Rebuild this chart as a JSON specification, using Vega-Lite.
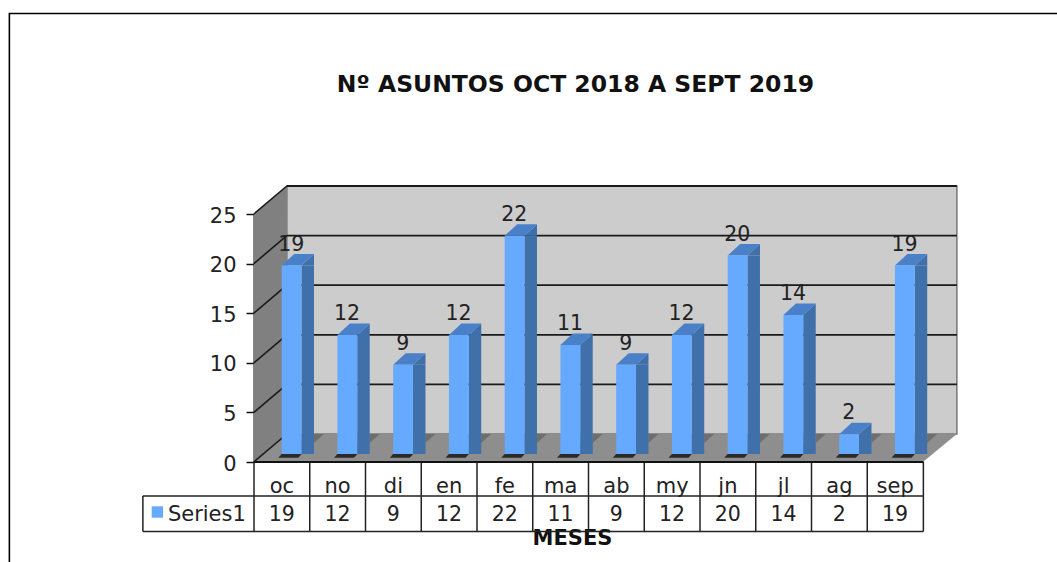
{"$schema":"https://vega.github.io/schema/vega-lite/v6.json","width":669,"height":248,"padding":{"left":254,"top":214,"right":134,"bottom":100},"autosize":"none","background":"white","config":{"view":{"stroke":null},"font":"DejaVu Sans"},"title":{"text":"Nº ASUNTOS OCT 2018 A SEPT 2019","font":"DejaVu Sans","fontSize":23.5,"fontWeight":"bold","color":"#111","anchor":"middle","dx":-13,"offset":-86},"data":{"values":[{"mes":"oc","asuntos":19},{"mes":"no","asuntos":12},{"mes":"di","asuntos":9},{"mes":"en","asuntos":12},{"mes":"fe","asuntos":22},{"mes":"ma","asuntos":11},{"mes":"ab","asuntos":9},{"mes":"my","asuntos":12},{"mes":"jn","asuntos":20},{"mes":"jl","asuntos":14},{"mes":"ag","asuntos":2},{"mes":"sep","asuntos":19}]},"encoding":{"x":{"field":"mes","type":"nominal","sort":null,"title":"MESES","scale":{"type":"band","domain":["oc","no","di","en","fe","ma","ab","my","jn","jl","ag","sep"],"paddingInner":0,"paddingOuter":0},"axis":{"orient":"bottom","labelAngle":0,"ticks":false,"domain":false,"labelFontSize":21,"labelColor":"#222","labelPadding":13,"titleFontSize":21,"titleFontWeight":"bold","titleColor":"#111","titleX":318,"titleY":82,"titleBaseline":"alphabetic"}},"y":{"field":"asuntos","type":"quantitative","title":null,"scale":{"domain":[0,25],"nice":false},"axis":{"values":[0,5,10,15,20,25],"grid":false,"domainColor":"#111","domainWidth":2,"tickColor":"#111","tickWidth":1.5,"tickSize":8,"labelFontSize":21,"labelColor":"#222","labelPadding":10,"labelOffset":2}}},"layer":[{"data":{"values":[{"mes":"oc","marca":0}]},"mark":{"type":"point","size":4,"filled":false,"opacity":1,"stroke":"#000","strokeWidth":1.6,"shape":"M-272.5,110L-272.5,-448.5L790,-448.5"},"encoding":{"y":{"field":"marca","type":"quantitative"}}},{"data":{"values":[{"mes":"oc","marca":0}]},"mark":{"type":"point","size":4,"filled":true,"opacity":1,"fill":"#cccccc","stroke":"#777","strokeWidth":1.5,"shape":"M5,-276L675,-276L675,-28L5,-28Z"},"encoding":{"y":{"field":"marca","type":"quantitative"}}},{"data":{"values":[{"mes":"oc","marca":0}]},"mark":{"type":"point","size":4,"filled":true,"opacity":1,"fill":"#808080","shape":"M-28,-248L5,-276L5,-28L-28,0Z"},"encoding":{"y":{"field":"marca","type":"quantitative"}}},{"data":{"values":[{"mes":"oc","marca":0}]},"mark":{"type":"point","size":4,"filled":true,"opacity":1,"fill":"#8e8e8e","shape":"M-28,0L5,-28L675,-28L641,0Z"},"encoding":{"y":{"field":"marca","type":"quantitative"}}},{"data":{"values":[{"mes":"oc","marca":5},{"mes":"oc","marca":10},{"mes":"oc","marca":15},{"mes":"oc","marca":20},{"mes":"oc","marca":25}]},"mark":{"type":"point","size":4,"filled":false,"opacity":1,"stroke":"#1a1a1a","strokeWidth":1.8,"shape":"M5,-28L675,-28"},"encoding":{"y":{"field":"marca","type":"quantitative"}}},{"data":{"values":[{"mes":"oc","marca":0},{"mes":"oc","marca":5},{"mes":"oc","marca":10},{"mes":"oc","marca":15},{"mes":"oc","marca":20},{"mes":"oc","marca":25}]},"mark":{"type":"point","size":4,"filled":false,"opacity":1,"stroke":"#1a1a1a","strokeWidth":1.6,"shape":"M-28,0L5,-28"},"encoding":{"y":{"field":"marca","type":"quantitative"}}},{"mark":{"type":"point","size":4,"filled":true,"opacity":1,"fill":"#6e6e6e","shape":"M19.8,-8L42,-28L32.1,-28L32.1,-19.5Z"},"encoding":{"y":{"datum":0}}},{"mark":{"type":"point","size":4,"filled":true,"opacity":1,"fill":"#2a2a2a","shape":"M-3.6,-4.3L-0.2,-8L19.8,-8L16.4,-4.3Z"},"encoding":{"y":{"datum":0}}},{"mark":{"type":"bar","size":12.5,"xOffset":25.85,"yOffset":-8,"y2Offset":-19.5,"fill":"#4070aa"}},{"mark":{"type":"point","size":4,"filled":true,"opacity":1,"fill":"#4070aa","shape":"M19.6,-8L32.1,-19.5L32.1,-8Z"}},{"mark":{"type":"point","size":4,"filled":true,"opacity":1,"fill":"#4070aa","shape":"M19.6,-8L32.1,-19.5L19.6,-19.5Z"},"encoding":{"y":{"datum":0}}},{"mark":{"type":"point","size":4,"filled":true,"opacity":1,"fill":"#4a80c8","shape":"M-0.2,-8L19.6,-8L32.1,-19.5L12.3,-19.5Z"}},{"mark":{"type":"bar","size":19.8,"xOffset":9.7,"yOffset":-8,"y2Offset":-8,"fill":"#66aaff"}},{"mark":{"type":"text","xOffset":9.5,"yOffset":-22.7,"baseline":"alphabetic","fontSize":20.5,"fill":"#222"},"encoding":{"text":{"field":"asuntos","type":"quantitative"}}},{"mark":{"type":"rule","stroke":"#222","strokeWidth":1.5},"encoding":{"x":{"field":"mes","type":"nominal","bandPosition":0},"y":{"datum":0},"y2":{"datum":-7}}},{"data":{"values":[{"mes":"oc","marca":0}]},"mark":{"type":"point","size":4,"filled":false,"opacity":1,"stroke":"#222","strokeWidth":1.5,"shape":"M-139,34L641.5,34M-139,69.5L641.5,69.5M-139,34L-139,69.5M641.5,0L641.5,69.5"},"encoding":{"y":{"field":"marca","type":"quantitative"}}},{"data":{"values":[{"mes":"oc","marca":0}]},"mark":{"type":"point","size":4,"filled":false,"opacity":1,"stroke":"#111","strokeWidth":2,"shape":"M-28,0L641.5,0"},"encoding":{"y":{"field":"marca","type":"quantitative"}}},{"mark":{"type":"text","yOffset":59,"baseline":"alphabetic","fontSize":20.5,"fill":"#222"},"encoding":{"y":{"datum":0},"text":{"field":"asuntos","type":"quantitative"}}},{"data":{"values":[{"mes":"oc","marca":0,"serie":"Series1"}]},"mark":{"type":"text","xOffset":-114,"yOffset":59,"align":"left","baseline":"alphabetic","fontSize":21,"fill":"#222"},"encoding":{"y":{"field":"marca","type":"quantitative"},"text":{"field":"serie","type":"nominal"}}},{"data":{"values":[{"mes":"oc","marca":0,"serie":"Series1"}]},"mark":{"type":"square","size":130,"xOffset":-124.5,"yOffset":50,"opacity":1,"fill":"#66aaff"},"encoding":{"y":{"field":"marca","type":"quantitative"}}}]}
